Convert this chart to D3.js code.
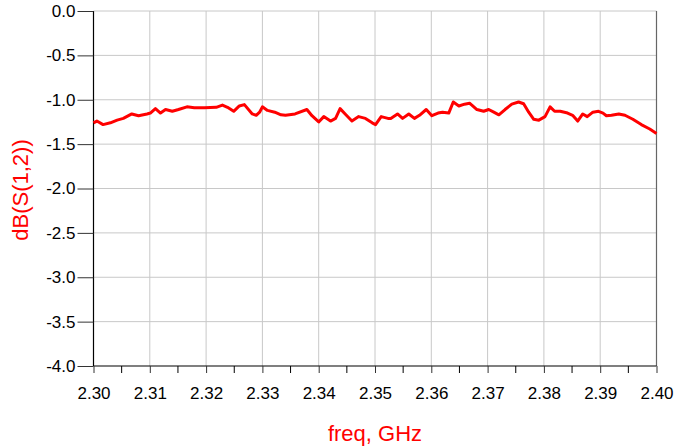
<!DOCTYPE html>
<html><head><meta charset="utf-8">
<script src="https://cdn.jsdelivr.net/npm/d3@7"></script>
<style>body{margin:0;background:#fff}svg{display:block}text{font-family:"Liberation Sans",Arial,sans-serif}</style>
</head><body>
<script>
const freq = [2.3000,2.3006,2.3017,2.3030,2.3042,2.3053,2.3068,2.3080,2.3095,2.3101,2.3110,2.3119,2.3128,2.3140,2.3151,2.3166,2.3179,2.3197,2.3218,2.3229,2.3238,2.3249,2.3259,2.3268,2.3282,2.3289,2.3295,2.3300,2.3309,2.3322,2.3333,2.3341,2.3358,2.3379,2.3388,2.3400,2.3409,2.3421,2.3430,2.3438,2.3447,2.3459,2.3471,2.3483,2.3495,2.3501,2.3511,2.3523,2.3528,2.3540,2.3549,2.3560,2.3570,2.3579,2.3591,2.3601,2.3612,2.3620,2.3631,2.3639,2.3649,2.3659,2.3668,2.3672,2.3681,2.3693,2.3702,2.3711,2.3720,2.3731,2.3743,2.3755,2.3764,2.3773,2.3782,2.3791,2.3802,2.3811,2.3819,2.3829,2.3842,2.3851,2.3860,2.3869,2.3877,2.3887,2.3897,2.3905,2.3911,2.3920,2.3933,2.3944,2.3958,2.3973,2.3988,2.4000];
const dbS12 = [-1.26,-1.24,-1.28,-1.26,-1.23,-1.21,-1.16,-1.18,-1.16,-1.15,-1.10,-1.15,-1.11,-1.13,-1.11,-1.08,-1.09,-1.09,-1.085,-1.06,-1.085,-1.13,-1.07,-1.055,-1.16,-1.175,-1.14,-1.08,-1.12,-1.14,-1.17,-1.175,-1.16,-1.11,-1.18,-1.25,-1.19,-1.24,-1.21,-1.10,-1.16,-1.24,-1.19,-1.21,-1.26,-1.28,-1.19,-1.21,-1.21,-1.16,-1.21,-1.16,-1.21,-1.175,-1.11,-1.18,-1.15,-1.14,-1.15,-1.025,-1.07,-1.05,-1.04,-1.06,-1.11,-1.13,-1.11,-1.14,-1.17,-1.11,-1.05,-1.025,-1.045,-1.14,-1.22,-1.23,-1.19,-1.08,-1.13,-1.13,-1.15,-1.175,-1.24,-1.16,-1.19,-1.14,-1.13,-1.15,-1.18,-1.175,-1.16,-1.175,-1.22,-1.28,-1.33,-1.38];
const xTicks = [2.30,2.31,2.32,2.33,2.34,2.35,2.36,2.37,2.38,2.39,2.40];
const xMinor = [2.305,2.315,2.325,2.335,2.345,2.355,2.365,2.375,2.385,2.395];
const yTicks = [0,-0.5,-1.0,-1.5,-2.0,-2.5,-3.0,-3.5,-4.0];
const yTickLabels = ["0.0","-0.5","-1.0","-1.5","-2.0","-2.5","-3.0","-3.5","-4.0"];
const xTitle = "freq, GHz";
const yTitle = "dB(S(1,2))";

const W = 675, H = 448;
const L = 93.5, R = 656.5, T = 11, B = 366;
const svg = d3.select("body").append("svg").attr("width", W).attr("height", H);
const x = d3.scaleLinear().domain([2.30, 2.40]).range([L, R]);
const y = d3.scaleLinear().domain([-4, 0]).range([B, T]);

// grid
svg.append("g").selectAll("line").data(xTicks.slice(1, -1)).join("line")
  .attr("x1", d => x(d)).attr("x2", d => x(d)).attr("y1", T).attr("y2", B)
  .attr("stroke", "#c8c8c8").attr("stroke-width", 1);
svg.append("g").selectAll("line").data(yTicks.slice(0, -1)).join("line")
  .attr("x1", L).attr("x2", R).attr("y1", d => y(d)).attr("y2", d => y(d))
  .attr("stroke", "#c8c8c8").attr("stroke-width", 1);

// right border
svg.append("line").attr("x1", R).attr("x2", R).attr("y1", T).attr("y2", B)
  .attr("stroke", "#666").attr("stroke-width", 1.2);

// x axis
const xa = svg.append("g").attr("transform", `translate(0,${B})`)
  .call(d3.axisBottom(x).tickValues(xTicks).tickFormat(d3.format(".2f")).tickSize(7).tickPadding(14));
xa.append("g").selectAll("line").data(xMinor).join("line")
  .attr("x1", d => x(d)).attr("x2", d => x(d)).attr("y1", 0).attr("y2", 7)
  .attr("stroke", "#000");
// y axis
const ya = svg.append("g").attr("transform", `translate(${L},0)`)
  .call(d3.axisLeft(y).tickValues(yTicks).tickFormat((d, i) => yTickLabels[i]).tickSize(16).tickPadding(2));
[xa, ya].forEach(g => {
  g.select(".domain").attr("stroke", "#000").attr("stroke-width", 1.2);
  g.selectAll(".tick line").attr("stroke", "#333");
  g.selectAll("text").attr("font-size", 17).attr("fill", "#000")
    .attr("font-family", "'Liberation Sans', Arial, sans-serif");
});
ya.select(".domain").attr("d", `M0,${T}V${B}`);
xa.select(".domain").attr("d", `M${L},0H${R}`);

// line
const line = d3.line().x((d, i) => x(freq[i])).y(d => y(d)).curve(d3.curveLinear);
svg.append("path").datum(dbS12).attr("d", line)
  .attr("fill", "none").attr("stroke", "#ff0000").attr("stroke-width", 3)
  .attr("stroke-linejoin", "round");

// titles
svg.append("text").attr("x", 375).attr("y", 441).attr("text-anchor", "middle")
  .attr("font-size", 22).attr("fill", "#ff0000").text(xTitle);
svg.append("text").attr("transform", `translate(28,190) rotate(-90)`).attr("text-anchor", "middle")
  .attr("font-size", 22).attr("fill", "#ff0000").text(yTitle);
</script>
</body></html>
